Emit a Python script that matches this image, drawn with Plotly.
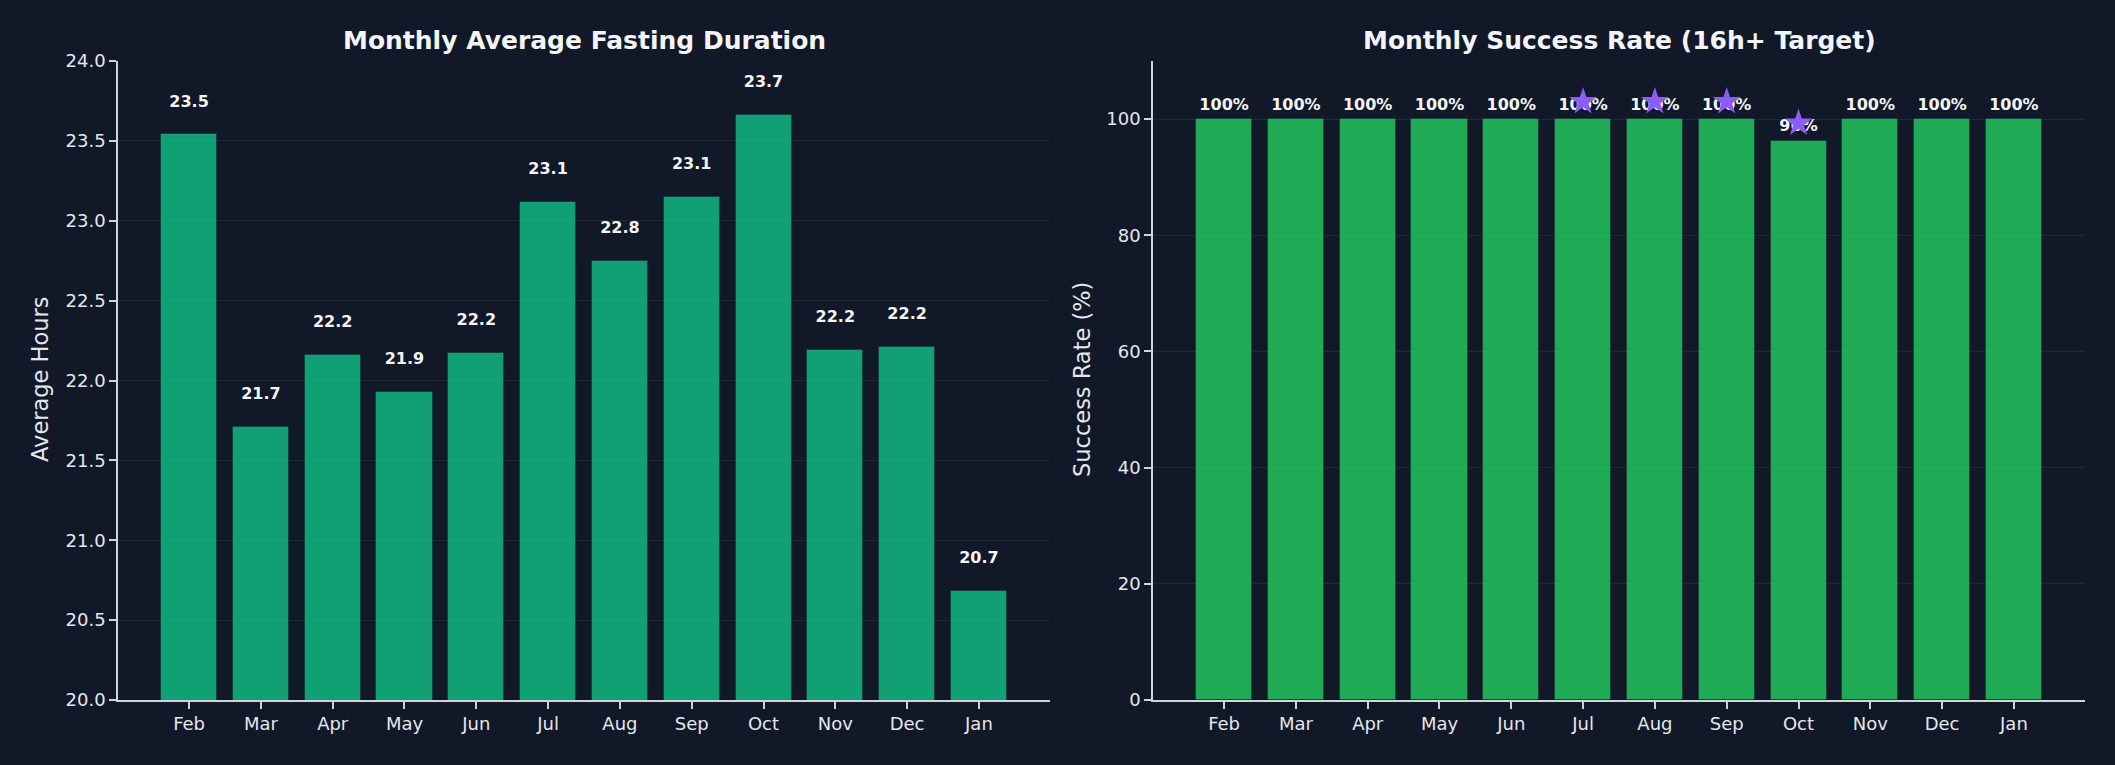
import plotly.graph_objects as go

months = ["Feb", "Mar", "Apr", "May", "Jun", "Jul", "Aug", "Sep", "Oct", "Nov", "Dec", "Jan"]
avg_hours = [23.54, 21.71, 22.16, 21.93, 22.17, 23.12, 22.75, 23.15, 23.66, 22.19, 22.21, 20.68]
success_rate = [100, 100, 100, 100, 100, 100, 100, 100, 96.3, 100, 100, 100]
star_months = ["Jul", "Aug", "Sep", "Oct"]
left_ticks = [20.0, 20.5, 21.0, 21.5, 22.0, 22.5, 23.0, 23.5, 24.0]
right_ticks = [0, 20, 40, 60, 80, 100]

BG = "#111827"
TXT = "#e5e7eb"
WHITE = "#f3f4f6"
SPINE = "#d1d5db"
GRID = "rgba(255,255,255,0.08)"
FONT = "DejaVu Sans"

x_idx = list(range(len(months)))
star_idx = [months.index(m) for m in star_months]
star_vals = [success_rate[i] + 3.0 for i in star_idx]

fig = go.Figure()

# Left chart
fig.add_trace(go.Bar(
    x=x_idx, y=avg_hours, width=0.78,
    marker=dict(color="rgba(16,185,129,0.85)", line=dict(color="rgba(17,24,39,0.4)", width=1)),
    xaxis="x", yaxis="y", showlegend=False, hoverinfo="skip",
))
fig.add_trace(go.Scatter(
    x=x_idx, y=[v + 0.2 for v in avg_hours], mode="text",
    text=[f"{v:.1f}" for v in avg_hours],
    textfont=dict(family=FONT, size=16, color=WHITE, weight="bold"),
    textposition="middle center",
    xaxis="x", yaxis="y", showlegend=False, hoverinfo="skip", cliponaxis=False,
))

# Right chart
fig.add_trace(go.Bar(
    x=x_idx, y=success_rate, width=0.78,
    marker=dict(color="rgba(34,197,94,0.85)", line=dict(color="rgba(17,24,39,0.4)", width=1)),
    xaxis="x2", yaxis="y2", showlegend=False, hoverinfo="skip",
))
fig.add_trace(go.Scatter(
    x=x_idx, y=[v + 2.3 for v in success_rate], mode="text",
    text=[f"{v:.0f}%" for v in success_rate],
    textfont=dict(family=FONT, size=16, color=WHITE, weight="bold"),
    textposition="middle center",
    xaxis="x2", yaxis="y2", showlegend=False, hoverinfo="skip", cliponaxis=False,
))
fig.add_trace(go.Scatter(
    x=star_idx, y=star_vals, mode="markers",
    marker=dict(symbol="star", size=21, color="#8b5cf6", line=dict(width=0)),
    xaxis="x2", yaxis="y2", showlegend=False, hoverinfo="skip", cliponaxis=False,
))

axis_common = dict(
    showline=True, linecolor=SPINE, linewidth=1.5,
    ticks="outside", ticklen=7, tickwidth=1.5, tickcolor=SPINE,
    tickfont=dict(family=FONT, size=18, color=TXT),
    zeroline=False, automargin=False,
)

fig.update_layout(
    width=2115, height=765, autosize=False,
    paper_bgcolor=BG, plot_bgcolor=BG,
    margin=dict(l=0, r=0, t=0, b=0, pad=0, autoexpand=False),
    bargap=0,
    xaxis=dict(domain=[118/2115, 1050/2115], range=[-0.99, 11.99],
               tickmode="array", tickvals=x_idx, ticktext=months,
               showgrid=False, anchor="y", **axis_common),
    yaxis=dict(domain=[1-700/765, 1-61/765], range=[20, 24],
               tickmode="array", tickvals=left_ticks, ticktext=[f"{t:.1f}" for t in left_ticks],
               showgrid=True, gridcolor=GRID, gridwidth=1.2, anchor="x", **axis_common),
    xaxis2=dict(domain=[1153/2115, 2085/2115], range=[-0.99, 11.99],
                tickmode="array", tickvals=x_idx, ticktext=months,
                showgrid=False, anchor="y2", **axis_common),
    yaxis2=dict(domain=[1-700/765, 1-61/765], range=[0, 110],
                tickmode="array", tickvals=right_ticks, ticktext=[str(t) for t in right_ticks],
                showgrid=True, gridcolor=GRID, gridwidth=1.2, anchor="x2", **axis_common),
    annotations=[
        dict(text="<b>Monthly Average Fasting Duration</b>", x=(118+1050)/2/2115, y=1-40/765,
             xref="paper", yref="paper", xanchor="center", yanchor="middle", showarrow=False,
             font=dict(family=FONT, size=25, color=WHITE)),
        dict(text="<b>Monthly Success Rate (16h+ Target)</b>", x=(1153+2085)/2/2115, y=1-40/765,
             xref="paper", yref="paper", xanchor="center", yanchor="middle", showarrow=False,
             font=dict(family=FONT, size=25, color=WHITE)),
        dict(text="Average Hours", x=40/2115, y=1-380/765, textangle=-90,
             xref="paper", yref="paper", xanchor="center", yanchor="middle", showarrow=False,
             font=dict(family=FONT, size=22.5, color=TXT)),
        dict(text="Success Rate (%)", x=1082/2115, y=1-380/765, textangle=-90,
             xref="paper", yref="paper", xanchor="center", yanchor="middle", showarrow=False,
             font=dict(family=FONT, size=22.5, color=TXT)),
    ],
)

fig.write_html(
    "out.html",
    config={"displayModeBar": False, "responsive": False},
    post_script="document.body.style.margin='0';document.body.style.padding='0';"
                "document.body.style.background='#111827';document.body.style.overflow='hidden';",
)
